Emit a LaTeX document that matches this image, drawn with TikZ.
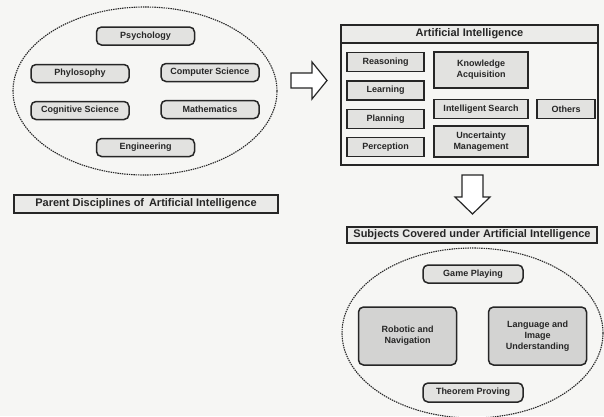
\documentclass[tikz,border=0pt]{standalone}
\usepackage{fontspec}
\setmainfont{Liberation Sans}
\usetikzlibrary{shapes.geometric}
\definecolor{ink}{HTML}{262626}
\definecolor{paper}{HTML}{F6F6F4}
\definecolor{stipple}{HTML}{E2E2E0}
\begin{document}
\begin{tikzpicture}[x=1pt,y=-1pt,
  every node/.style={text=ink, font=\bfseries\fontsize{9}{11}\selectfont, align=center, inner sep=0pt},
  pill/.style={draw=ink, line width=1.5pt, fill=stipple, rounded corners=5pt, minimum width=98pt, minimum height=18pt},
  subj/.style={draw=ink, line width=1.5pt, fill=stipple, minimum width=77pt, minimum height=19pt},
  bigpill/.style={draw=ink, line width=1.5pt, fill=stipple!85!gray, rounded corners=5pt, minimum width=98pt, minimum height=58pt},
  caption/.style={draw=ink, line width=1.8pt, fill=stipple!60!paper, font=\bfseries\fontsize{11}{12}\selectfont},
  group/.style={draw=ink, line width=1.1pt, dash pattern=on 1.4pt off 0.9pt},
  blockarrow/.style={draw=ink, line width=1.2pt, fill=white, line join=miter}
]
\useasboundingbox[fill=paper] (0,0) rectangle (604,416);

% parent disciplines
\node[ellipse, group, minimum width=264pt, minimum height=168pt] (parents) at (145,91) {};
\node[pill] (psy) at (145.5,36) {Psychology};
\node[pill] (phy) at (80,73.5) {Phylosophy};
\node[pill] (cs)  at (210,72.5) {Computer Science};
\node[pill] (cog) at (80,110.5) {Cognitive Science};
\node[pill] (mat) at (210,109.5) {Mathematics};
\node[pill] (eng) at (145.5,147.5) {Engineering};
\node[caption, minimum width=264pt, minimum height=18pt] (pcap) at (146,204) {Parent Disciplines of\, Artificial Intelligence};

% artificial intelligence block
\node[draw=ink, line width=1.5pt, fill=paper, minimum width=257pt, minimum height=140pt] (ai) at (469.5,95) {};
\node[draw=ink, line width=1.3pt, fill=stipple!55!paper, minimum width=257pt, minimum height=18pt,
      font=\bfseries\fontsize{11}{12}\selectfont] (aititle) at (469.5,34) {Artificial Intelligence};
\node[subj] (rea) at (385.5,62) {Reasoning};
\node[subj] (lea) at (385.5,90.5) {Learning};
\node[subj] (pla) at (385.5,119) {Planning};
\node[subj] (per) at (385.5,147) {Perception};
\node[subj, minimum width=94pt, minimum height=36pt] (kno) at (481,70) {Knowledge\\Acquisition};
\node[subj, minimum width=94pt] (sea) at (481,109) {Intelligent Search};
\node[subj, minimum width=94pt, minimum height=31pt] (unc) at (481,141.5) {Uncertainty\\Management};
\node[subj, minimum width=58pt] (oth) at (566,109) {Others};

% subjects covered
\node[caption, minimum width=250pt, minimum height=16pt] (scap) at (472,235) {Subjects Covered under Artificial Intelligence};
\node[ellipse, group, minimum width=261pt, minimum height=170pt] (subjects) at (472.5,333) {};
\node[pill, minimum width=100pt] (game) at (473,274) {Game Playing};
\node[bigpill] (rob) at (407.5,336) {Robotic and\\Navigation};
\node[bigpill] (lang) at (537.5,336) {Language and\\Image\\Understanding};
\node[pill, minimum width=100pt, minimum height=19pt] (thm) at (473,392.5) {Theorem Proving};

% block arrows between the groups
\coordinate (ra) at (291,73);
\draw[blockarrow] (ra) -- ++(21,0) -- ++(0,-11) -- ++(15,18.5) -- ++(-15,18.5) -- ++(0,-11) -- ++(-21,0) -- cycle;
\coordinate (da) at (462,175);
\draw[blockarrow] (da) -- ++(21,0) -- ++(0,22) -- ++(7,0) -- ++(-17.5,17) -- ++(-17.5,-17) -- ++(7,0) -- cycle;
\end{tikzpicture}
\end{document}
